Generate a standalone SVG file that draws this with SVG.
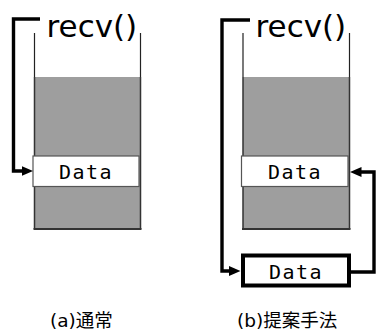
<svg xmlns="http://www.w3.org/2000/svg" width="376" height="332" viewBox="0 0 376 332">
<style>
.bg{fill:#fff}
.thin{stroke:#222;stroke-width:1.2;fill:none}
.stack{fill:#9e9e9e;stroke:none}
.edge{stroke:#333;stroke-width:1.5;fill:none}
.bot{stroke:#333;stroke-width:2.2;fill:none}
.slot{fill:#fff;stroke:#555;stroke-width:1.2}
.box{fill:#fff;stroke:#000;stroke-width:4}
.conn{fill:none;stroke:#000;stroke-width:3.4}
.fn{font-family:"DejaVu Sans",sans-serif;font-size:31px;fill:#000}
.data{font-family:"DejaVu Sans Mono",monospace;font-size:20px;letter-spacing:1.5px;fill:#000;text-anchor:middle}
.cap{font-family:"DejaVu Sans","Noto Sans CJK JP",sans-serif;font-size:18.5px;fill:#000}
</style>
<defs>
<marker id="ah" markerUnits="userSpaceOnUse" markerWidth="13" markerHeight="11" refX="2" refY="5.5" orient="auto" viewBox="0 0 13 11">
<path d="M0,0.5 L11.5,5.5 L0,10.5 z" fill="#000"/>
</marker>
</defs>
<rect class="bg" x="0" y="0" width="376" height="332"/>

<g id="stack-a">
<rect class="stack" x="34.5" y="77" width="106" height="152"/>
<path class="thin" d="M34.5 33 V77 M140.5 33 V77"/>
<path class="edge" d="M34.5 77 V229 M140.5 77 V229"/>
<path class="bot" d="M33.5 229 H141.5"/>
</g>
<g id="recv-a"><text class="fn" x="46.5" y="37">recv()</text></g>
<g id="data-a">
<rect class="slot" x="33" y="156" width="106" height="30.5"/>
<text class="data" x="86" y="179">Data</text>
</g>

<g id="stack-b">
<rect class="stack" x="243" y="77" width="106.5" height="152"/>
<path class="thin" d="M243 33 V77 M349.5 33 V77"/>
<path class="edge" d="M243 77 V229 M349.5 77 V229"/>
<path class="bot" d="M242 229 H350.5"/>
</g>
<g id="recv-b"><text class="fn" x="255.5" y="37">recv()</text></g>
<g id="data-b">
<rect class="slot" x="241.5" y="156" width="106.5" height="30.5"/>
<text class="data" x="295" y="179">Data</text>
</g>
<g id="data-new">
<rect class="box" x="243" y="255.5" width="106" height="30"/>
<text class="data" x="296" y="279">Data</text>
</g>

<g id="connectors">
<path class="conn" d="M40 19 H13.5 V171 H23.5" marker-end="url(#ah)"/>
<path class="conn" d="M250 20 H222 V271 H231" marker-end="url(#ah)"/>
<path class="conn" d="M351 272 H374 V172 H359.5" marker-end="url(#ah)"/>
</g>

<g id="captions">
<text class="cap" x="50" y="327">(a)通常</text>
<text class="cap" x="237" y="327">(b)提案手法</text>
</g>
</svg>
